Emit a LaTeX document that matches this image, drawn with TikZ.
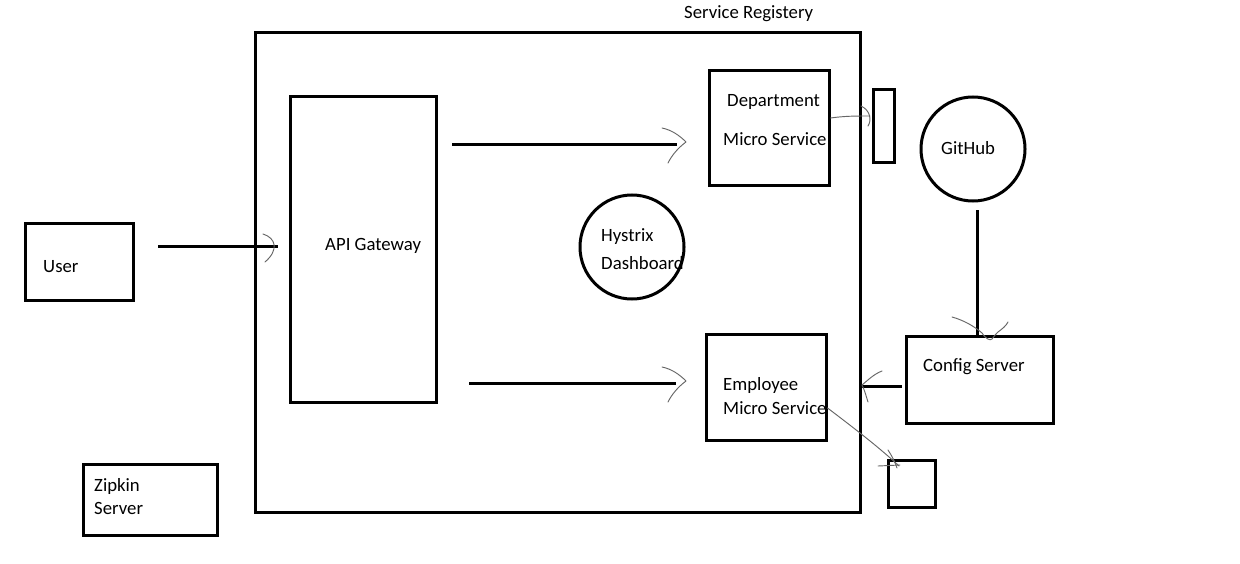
\documentclass[tikz,border=0pt]{standalone}
\usepackage{fontspec}
\setmainfont{Carlito}
\usetikzlibrary{fit}
\begin{document}
\begin{tikzpicture}[x=0.03cm,y=-0.03cm,
  box/.style={draw, line width=0.09cm, inner sep=0pt},
  ring/.style={draw, circle, line width=0.09cm, inner sep=0pt},
  lbl/.style={anchor=base west, inner sep=0pt, font=\fontsize{16pt}{19pt}\selectfont},
  conn/.style={line width=0.09cm},
  hand/.style={draw=black!60, line width=0.028cm, line cap=round, line join=round}]
\useasboundingbox[fill=white] (0,0) rectangle (1240,563);

% boxes
\node[box, fit={(255,33)(860,512)}] (reg) {};
\node[box, fit={(290,96)(436,402)}] (gw) {};
\node[box, fit={(709,71)(829,185)}] (dept) {};
\node[box, fit={(873,89)(894,162)}] (dside) {};
\node[box, fit={(25,223)(133,300)}] (user) {};
\node[box, fit={(706,334)(826,440)}] (emp) {};
\node[box, fit={(906,336)(1053,423)}] (cfg) {};
\node[box, fit={(888,460)(935,507)}] (eside) {};
\node[box, fit={(83,464)(217,535)}] (zip) {};
\node[ring, minimum size=3.12cm] (git) at (973,149) {};
\node[ring, minimum size=3.12cm] (hys) at (632,247) {};

% labels
\node[lbl] (tReg) at (684,19) {Service Registery};
\node[lbl] (tGw) at (325,250) {API Gateway};
\node[lbl] (tDept1) at (727,106) {Department};
\node[lbl] (tDept2) at (723,145) {Micro Service};
\node[lbl] (tGit) at (941,154) {GitHub};
\node[lbl] (tHys1) at (601,241) {Hystrix};
\node[lbl] (tHys2) at (601,269) {Dashboard};
\node[lbl] (tUser) at (43,272) {User};
\node[lbl] (tEmp1) at (723,390) {Employee};
\node[lbl] (tEmp2) at (723,414) {Micro Service};
\node[lbl] (tCfg) at (923,371) {Config Server};
\node[lbl] (tZip1) at (94,491) {Zipkin};
\node[lbl] (tZip2) at (94,514) {Server};

% connector ends
\coordinate (a1) at (158,246); \coordinate (a2) at (278,246);
\coordinate (b1) at (452,144); \coordinate (b2) at (677,144);
\coordinate (c1) at (469,383); \coordinate (c2) at (676,383);
\coordinate (d1) at (902,386); \coordinate (d2) at (861,386);
\coordinate (e1) at (977,210); \coordinate (e2) at (977,336);

\draw[conn] (a1) -- (a2);
\draw[conn] (b1) -- (b2);
\draw[conn] (c1) -- (c2);
\draw[conn] (d1) -- (d2);
\draw[conn] (e1) -- (e2);

% hand-drawn arrow heads
\draw[hand] (263,234) .. controls (276,238) and (279,250) .. (265,262);
\draw[hand] (662,128) .. controls (672,130) and (680,136) .. (686,142) .. controls (678,148) and (672,155) .. (668,163);
\draw[hand] (662,367) .. controls (672,369) and (680,375) .. (686,381) .. controls (678,387) and (672,394) .. (668,402);
\draw[hand] (882,371) .. controls (874,374) and (868,380) .. (862,385) .. controls (865,391) and (866,396) .. (868,402);
\draw[hand] (952,317) .. controls (963,320) and (974,326) .. (982,333) .. controls (986,339) and (990,341) .. (992,339) .. controls (994,336) and (996,334) .. (998,332) .. controls (1002,329) and (1006,326) .. (1008,322);

% thin hand-drawn connectors
\draw[hand] (dept.east |- 0,118) .. controls (845,116) and (855,116) .. (870,116);
\draw[hand] (861,106) .. controls (870,110) and (872,120) .. (868,126);
\draw[hand] (emp.east |- 0,408) .. controls (850,425) and (880,448) .. (899,466);
\draw[hand] (888,450) .. controls (892,456) and (895,462) .. (897,468);
\draw[hand] (878,466) -- (900,465);
\end{tikzpicture}
\end{document}
